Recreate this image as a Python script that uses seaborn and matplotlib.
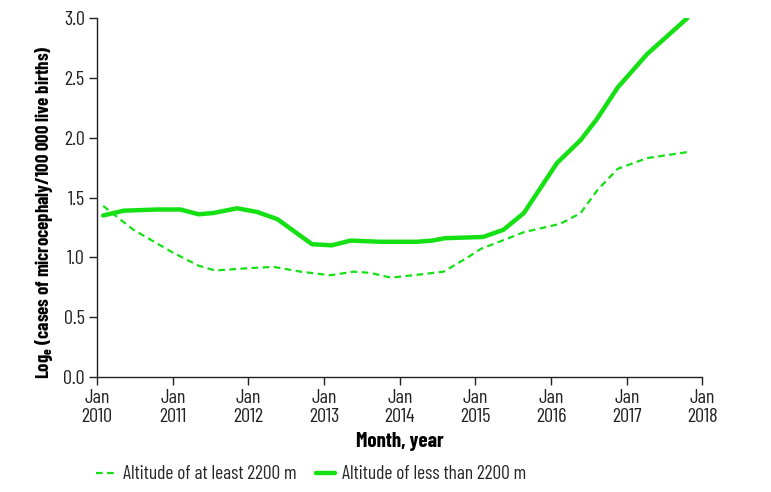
import pandas as pd
import matplotlib
matplotlib.use('Agg')
import matplotlib.pyplot as plt
import seaborn as sns

# decimal years
high_x = [2010.08, 2010.48, 2011.0, 2011.34, 2011.56, 2012.02, 2012.33, 2012.69, 2013.08,
          2013.39, 2013.61, 2013.88, 2014.18, 2014.58, 2014.9, 2015.07, 2015.64, 2016.12,
          2016.39, 2016.61, 2016.88, 2017.27, 2017.80]
high_y = [1.43, 1.23, 1.04, 0.93, 0.89, 0.91, 0.92, 0.88, 0.85,
          0.88, 0.87, 0.83, 0.85, 0.88, 1.00, 1.07, 1.21, 1.28,
          1.37, 1.56, 1.74, 1.83, 1.88]

low_x = [2010.08, 2010.35, 2010.81, 2011.1, 2011.34, 2011.53, 2011.85, 2012.11, 2012.38,
         2012.84, 2013.10, 2013.35, 2013.74, 2014.0, 2014.23, 2014.43, 2014.60, 2015.1,
         2015.37, 2015.64, 2016.08, 2016.39, 2016.61, 2016.88, 2017.27, 2017.80]
low_y = [1.35, 1.39, 1.40, 1.40, 1.36, 1.37, 1.41, 1.38, 1.32,
         1.11, 1.10, 1.14, 1.13, 1.13, 1.13, 1.14, 1.16, 1.17,
         1.23, 1.37, 1.79, 1.98, 2.16, 2.42, 2.70, 3.00]

years = list(range(2010, 2019))
tick_labels = ['Jan\n%d' % y for y in years]
y_ticks = [0.0, 0.5, 1.0, 1.5, 2.0, 2.5, 3.0]

df = pd.concat([
    pd.DataFrame({'year': high_x, 'value': high_y, 'group': 'Altitude of at least 2200 m'}),
    pd.DataFrame({'year': low_x, 'value': low_y, 'group': 'Altitude of less than 2200 m'}),
])

sns.set_style('ticks')
plt.rcParams['font.family'] = ['Barlow Condensed', 'DejaVu Sans']

green = '#14e014'
fig = plt.figure(figsize=(7.71, 4.92), dpi=100)
ax = fig.add_axes([0.126, 0.234, 0.785, 0.729])

sns.lineplot(data=df[df.group == 'Altitude of at least 2200 m'], x='year', y='value',
             color=green, lw=1.6, linestyle=(0, (3, 2)), label='Altitude of at least 2200 m', ax=ax)
sns.lineplot(data=df[df.group == 'Altitude of less than 2200 m'], x='year', y='value',
             color=green, lw=3.2, label='Altitude of less than 2200 m', ax=ax)

ax.set_xlim(2010, 2018)
ax.set_ylim(0, 3)
ax.set_xticks(years)
ax.set_xticklabels(tick_labels, fontsize=14.5, linespacing=1.05)
ax.set_yticks(y_ticks)
ax.set_yticklabels(['%.1f' % v for v in y_ticks], fontsize=14.5)
ax.tick_params(length=6, width=1, color='#222222', labelcolor='#222222', pad=3)
sns.despine(ax=ax)
for s in ['left', 'bottom']:
    ax.spines[s].set_linewidth(1)
    ax.spines[s].set_color('#222222')

ax.set_xlabel('Month, year', fontsize=15, fontweight='bold', labelpad=4, color='black')
ax.set_ylabel('Log$_\\mathregular{e}$ (cases of microcephaly/100 000 live births)',
              fontsize=13.5, fontweight='bold', color='black')
ax.yaxis.set_label_coords(-0.07, 0.46)

ax.legend(loc='upper left', bbox_to_anchor=(-0.03, -0.198), ncol=2, frameon=False,
          fontsize=14, handlelength=1.0, handletextpad=0.35, columnspacing=1.0)

fig.savefig('out.png', dpi=100)
